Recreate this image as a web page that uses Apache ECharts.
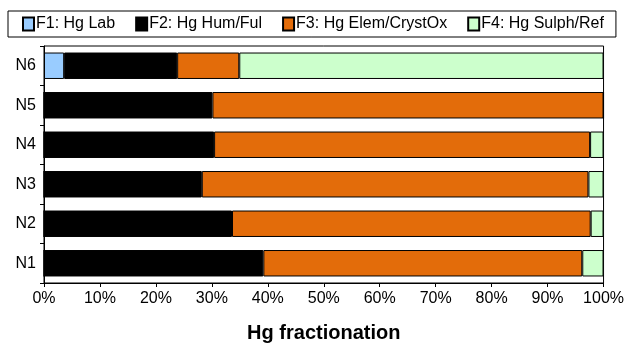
<!DOCTYPE html>
<html>
<head>
<meta charset="utf-8">
<script src="https://cdn.jsdelivr.net/npm/echarts@6/dist/echarts.min.js"></script>
<style>html,body{margin:0;padding:0;background:#fff}#c{width:627px;height:348px}</style>
</head>
<body>
<div id="c"></div>
<script>
const categories = ['N1', 'N2', 'N3', 'N4', 'N5', 'N6'];
const seriesNames = ['F1: Hg Lab', 'F2: Hg Hum/Ful', 'F3: Hg Elem/CrystOx', 'F4: Hg Sulph/Ref'];
const f1 = [0, 0, 0, 0, 0, 3.6];
const f2 = [39.2, 33.6, 28.2, 30.4, 30.1, 20.2];
const f3 = [57.0, 64.1, 69.1, 67.2, 69.9, 11.1];
const f4 = [3.8, 2.3, 2.7, 2.4, 0, 65.1];
const colors = ['#99ccff', '#000000', '#e36c0a', '#ccffcc'];
const xTicks = { min: 0, max: 100, interval: 10 };
const xTitle = 'Hg fractionation';

const font = 'Liberation Sans, Arial, sans-serif';
const values = [f1, f2, f3, f4];
const chart = echarts.init(document.getElementById('c'), null, { renderer: 'canvas' });
chart.setOption({
  animation: false,
  backgroundColor: '#fff',
  textStyle: { fontFamily: font },
  legend: {
    left: 8, top: 11,
    padding: [5, 12, 5, 14],
    itemGap: 20,
    itemWidth: 11, itemHeight: 13,
    icon: 'rect',
    borderColor: '#000', borderWidth: 1,
    textStyle: { fontSize: 16, color: '#000', fontFamily: font, padding: [0, 0, 0, -3] },
    itemStyle: { borderColor: '#000', borderWidth: 2 },
    data: seriesNames
  },
  grid: { left: 44, right: 22, top: 46, bottom: 61, show: true, borderColor: '#000', borderWidth: 1 },
  xAxis: {
    type: 'value', min: xTicks.min, max: xTicks.max, interval: xTicks.interval,
    name: xTitle, nameLocation: 'middle', nameGap: 40,
    nameTextStyle: { fontSize: 20, fontWeight: 'bold', color: '#000', fontFamily: font },
    axisLine: { show: true, lineStyle: { color: '#000', width: 1 } },
    axisTick: { show: true, length: 4, lineStyle: { color: '#000' } },
    axisLabel: { formatter: '{value}%', fontSize: 16, color: '#000', margin: 8, fontFamily: font },
    splitLine: { show: false }
  },
  yAxis: {
    type: 'category', data: categories,
    axisLine: { show: true, lineStyle: { color: '#000', width: 1 } },
    axisTick: { show: true, length: 4, lineStyle: { color: '#000' } },
    axisLabel: { fontSize: 16, color: '#000', margin: 8, fontFamily: font },
    splitLine: { show: false }
  },
  series: seriesNames.map((n, i) => ({
    name: n, type: 'bar', stack: 'total',
    barCategoryGap: '33%',
    data: values[i],
    itemStyle: { color: colors[i], borderColor: '#000', borderWidth: 1 }
  }))
});
</script>
</body>
</html>
